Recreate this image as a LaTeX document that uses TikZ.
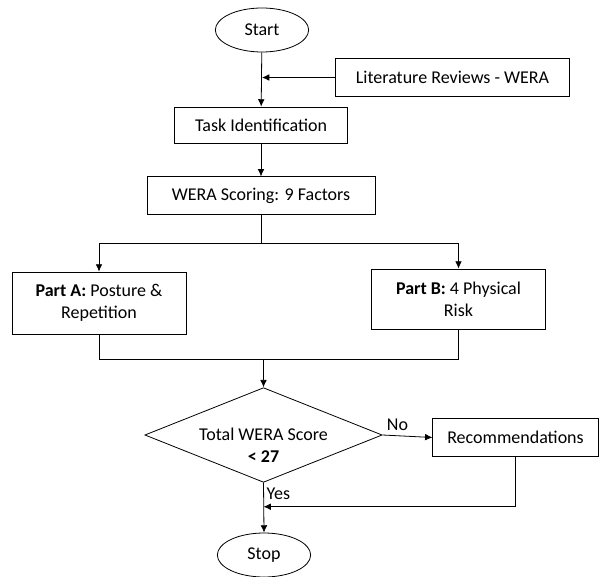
\documentclass[tikz,border=0pt]{standalone}
\usepackage{fontspec}
\setmainfont{Carlito}
\usetikzlibrary{shapes.geometric, arrows.meta}

\begin{document}
\begin{tikzpicture}[>={Latex[length=5.5pt,width=5pt]}, x=0.75pt, y=-0.75pt, line width=0.6pt,
    every node/.style={font=\fontsize{13.5}{16.5}\selectfont},
    terminal/.style={draw, ellipse, minimum width=70pt, minimum height=33pt, inner sep=0pt},
    process/.style={draw, rectangle, align=center, inner sep=0pt},
    decision/.style={draw, diamond, minimum width=178pt, minimum height=71pt, inner sep=0pt}]
    \useasboundingbox (0,0) rectangle (599,577);
    % boxes
    \node[terminal] (start) at (262, 30) {Start};
    \node[process, minimum width=175pt, minimum height=29pt] (lit) at (452.5, 77.5) {Literature Reviews - WERA};
    \node[process, minimum width=130pt, minimum height=27pt] (task) at (261, 125) {Task Identification};
    \node[process, minimum width=171pt, minimum height=28pt] (score) at (261, 195.5) {WERA Scoring: 9 Factors};
    \node[process, minimum width=130.5pt, minimum height=46.5pt] (partA) at (99, 303) {\textbf{Part A:} Posture \&\\ Repetition};
    \node[process, minimum width=130pt, minimum height=45pt] (partB) at (458.5, 299) {\textbf{Part B:} 4 Physical\\ Risk};
    \node[decision, label={[align=center, yshift=-8pt]center:Total WERA Score\\ \textbf{< 27}}] (dec) at (263.5, 435) {};
    \node[process, minimum width=124pt, minimum height=29pt] (rec) at (515.5, 437.5) {Recommendations};
    \node[terminal] (stop) at (264, 555) {Stop};
    % connectors
    \draw[->] (start) -- (task);
    \draw[->] (lit.west) -- (start.south |- lit.west);
    \draw[->] (task) -- (score);
    \draw (score.south) -- ++(0,-21.75pt) coordinate (fork);
    \draw[->] (fork) -| (partA.north);
    \draw[->] (fork) -| (partB.north);
    \coordinate (join) at ([yshift=21pt] dec.north);
    \draw (partA.south) |- (join) -| (partB.south);
    \draw[->] (join) -- (dec.north);
    \draw[->] (dec.east) -- node[pos=0.3, above] {No} (rec.west);
    \draw[->] (dec.south) -- node[pos=0.23, right, inner sep=2pt] {Yes} (stop.north);
    \coordinate (meet) at ([yshift=-18pt] dec.south);
    \draw[->] (rec.south) |- (meet);
\end{tikzpicture}
\end{document}
